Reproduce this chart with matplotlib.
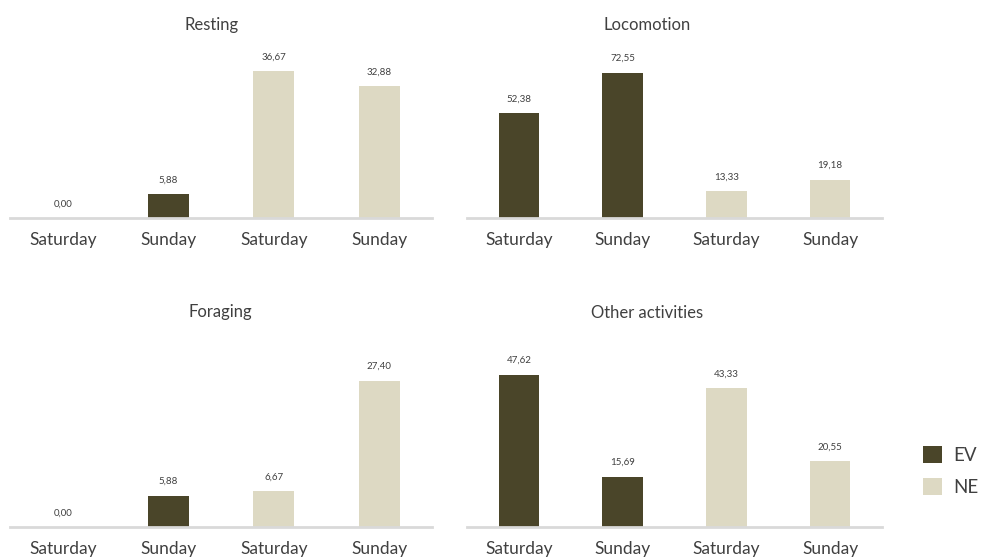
import matplotlib.pyplot as plt
import matplotlib.patches as patches

# data
days = ['Saturday', 'Sunday', 'Saturday', 'Sunday']
groups = ['EV', 'EV', 'NE', 'NE']
resting = [0.00, 5.88, 36.67, 32.88]
locomotion = [52.38, 72.55, 13.33, 19.18]
foraging = [0.00, 5.88, 6.67, 27.40]
other = [47.62, 15.69, 43.33, 20.55]

colors = {'EV': '#4a4529', 'NE': '#ddd9c3'}
text_color = '#404040'

plt.rcParams['font.family'] = ['Lato', 'DejaVu Sans']

fig = plt.figure(figsize=(9.81, 5.58), dpi=100)
fig.patch.set_facecolor('white')

W, H = 981.0, 558.0

panels = [
    ('Resting', resting, 40, (10, 432), 218, (212, 25)),
    ('Locomotion', locomotion, 80, (467, 882), 218, (647, 25)),
    ('Foraging', foraging, 30, (10, 432), 527, (220, 312)),
    ('Other activities', other, 50, (467, 882), 527, (647, 313)),
]

plot_h = 160
for title, vals, ymax, (x0, x1), base, (tx, ty) in panels:
    ax = fig.add_axes([x0 / W, 1 - base / H, (x1 - x0) / W, plot_h / H])
    x = range(len(vals))
    bars = ax.bar(x, vals, width=0.39,
                  color=[colors[g] for g in groups],
                  edgecolor='none', zorder=2)
    ax.set_xlim(-0.5, len(vals) - 0.5)
    ax.set_ylim(0, ymax)
    for b, v in zip(bars, vals):
        ax.annotate(f'{v:.2f}'.replace('.', ','),
                    (b.get_x() + b.get_width() / 2, v),
                    xytext=(0, 7), textcoords='offset points',
                    ha='center', va='bottom', fontsize=7, color=text_color)
    ax.set_xticks(list(x))
    ax.set_xticklabels(days, fontsize=12.5, color=text_color)
    ax.tick_params(axis='x', length=0, pad=10)
    ax.set_yticks([])
    for s in ['top', 'right', 'left']:
        ax.spines[s].set_visible(False)
    ax.spines['bottom'].set_color('#d9d9d9')
    ax.spines['bottom'].set_linewidth(2)
    ax.set_facecolor('none')
    fig.text(tx / W, 1 - ty / H, title, ha='center', va='center',
             fontsize=12, color=text_color)

handles = [patches.Patch(facecolor=colors['EV'], label='EV'),
           patches.Patch(facecolor=colors['NE'], label='NE')]
fig.legend(handles=handles, loc='upper left',
           bbox_to_anchor=(923 / W, 1 - 446 / H), frameon=False,
           fontsize=13.5, labelcolor=text_color, handlelength=1.0,
           handleheight=1.0, handletextpad=0.6, labelspacing=0.75,
           borderpad=0, borderaxespad=0)

fig.savefig('out.png', dpi=100, facecolor='white')
